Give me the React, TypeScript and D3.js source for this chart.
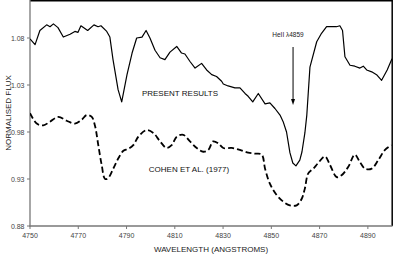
import React from "react";
import * as d3 from "d3";

const presentWave = [4750.0,4752.1,4754.1,4756.9,4758.3,4759.7,4761.6,4763.8,4766.6,4768.6,4769.9,4771.1,4773.9,4776.5,4778.2,4779.4,4781.8,4783.1,4784.4,4786.5,4788.0,4790.2,4792.3,4794.2,4796.4,4798.1,4799.7,4801.8,4803.9,4805.9,4808.0,4810.8,4812.8,4814.2,4816.3,4818.4,4821.1,4823.2,4825.3,4827.3,4829.4,4830.1,4832.1,4834.9,4837.0,4839.1,4840.4,4842.3,4844.6,4847.4,4849.4,4851.5,4853.6,4854.9,4856.3,4857.7,4858.9,4860.2,4861.8,4862.7,4863.9,4864.7,4866.0,4868.8,4870.8,4872.9,4877.0,4878.4,4879.5,4880.5,4882.6,4884.6,4886.7,4888.1,4889.5,4891.6,4893.6,4895.7,4898.0,4900.0];
const presentFlux = [1.079,1.073,1.088,1.094,1.092,1.095,1.091,1.081,1.084,1.087,1.086,1.093,1.088,1.094,1.092,1.093,1.087,1.081,1.057,1.025,1.012,1.041,1.064,1.080,1.081,1.088,1.080,1.067,1.059,1.057,1.065,1.071,1.064,1.063,1.055,1.048,1.053,1.046,1.041,1.039,1.034,1.031,1.029,1.027,1.027,1.021,1.018,1.012,1.021,1.010,1.011,1.005,0.998,0.991,0.980,0.958,0.947,0.944,0.950,0.959,0.979,0.998,1.049,1.076,1.085,1.092,1.092,1.093,1.088,1.060,1.051,1.050,1.048,1.050,1.046,1.044,1.041,1.035,1.046,1.058];

const cohenWave = [4750.0,4752.8,4755.5,4758.3,4761.7,4765.2,4768.6,4771.4,4773.5,4775.6,4776.9,4778.3,4779.7,4781.1,4782.4,4784.5,4786.6,4788.7,4790.7,4792.8,4794.9,4798.3,4801.1,4803.9,4806.6,4808.7,4810.8,4813.5,4816.3,4819.1,4821.8,4823.9,4825.9,4828.0,4830.1,4833.6,4837.0,4840.4,4843.2,4846.0,4847.4,4849.4,4852.2,4854.9,4857.7,4860.5,4862.6,4863.9,4865.3,4867.4,4869.4,4872.2,4874.3,4877.1,4879.1,4881.9,4884.6,4886.7,4888.8,4891.6,4894.3,4897.1,4899.8];
const cohenFlux = [1.000,0.989,0.987,0.991,0.996,0.992,0.989,0.993,0.998,0.996,0.987,0.966,0.945,0.930,0.931,0.941,0.952,0.960,0.962,0.966,0.975,0.982,0.979,0.970,0.963,0.966,0.975,0.977,0.970,0.963,0.959,0.961,0.970,0.968,0.963,0.963,0.961,0.958,0.957,0.956,0.941,0.925,0.913,0.906,0.902,0.902,0.909,0.920,0.936,0.941,0.947,0.954,0.945,0.932,0.934,0.943,0.956,0.948,0.941,0.941,0.950,0.961,0.966];

const xTicks = [4750,4770,4790,4810,4830,4850,4870,4890];
const yTicks = [0.88,0.93,0.98,1.03,1.08];
const heLine = 4859;

const W = 393, H = 254;
const FONT = "'Liberation Sans', Arial, sans-serif";

export default function App() {
  const x = d3.scaleLinear().domain([4750, 4900]).range([30, 392]);
  const y = d3.scaleLinear().domain([0.88, 1.12]).range([226, 0.4]);

  const present = presentWave.map((w, i) => [w, presentFlux[i]] as [number, number]);
  const cohen = cohenWave.map((w, i) => [w, cohenFlux[i]] as [number, number]);

  const solidLine = d3.line<[number, number]>().x(d => x(d[0])).y(d => y(d[1])).curve(d3.curveLinear);
  const smoothLine = d3.line<[number, number]>().x(d => x(d[0])).y(d => y(d[1])).curve(d3.curveCatmullRom.alpha(0.5));

  const ax = x(heLine);

  return (
    <svg width={W} height={H} style={{ position: "absolute", left: 0, top: 0, background: "#fff" }} fontFamily={FONT}>
      <defs>
        <clipPath id="plot">
          <rect x={30} y={0} width={362} height={226} />
        </clipPath>
      </defs>
      <line x1={30} x2={392.5} y1={0.75} y2={0.75} stroke="#000" strokeWidth={1.5} />
      <line x1={392.2} x2={392.2} y1={0} y2={226} stroke="#000" strokeWidth={1.5} />
      <line x1={30} x2={30} y1={0} y2={226.5} stroke="#777" strokeWidth={1.3} />
      <line x1={29.5} x2={392.5} y1={226} y2={226} stroke="#777" strokeWidth={1.3} />
      {yTicks.map(t => (
        <g key={t}>
          <line x1={27} x2={30} y1={y(t)} y2={y(t)} stroke="#777" strokeWidth={1} />
          <text x={24.5} y={y(t) + 2.5} fontSize={7} textAnchor="end" fill="#444">{t.toFixed(2)}</text>
        </g>
      ))}
      {xTicks.map(t => (
        <g key={t}>
          <line x1={x(t)} x2={x(t)} y1={226} y2={229} stroke="#777" strokeWidth={1} />
          <text x={x(t)} y={238} fontSize={7} textAnchor="middle" fill="#444">{t}</text>
        </g>
      ))}
      <text x={211} y={252} fontSize={8} textAnchor="middle" fill="#222">WAVELENGTH (ANGSTROMS)</text>
      <text transform={`translate(10.5,113) rotate(-90)`} fontSize={8} textAnchor="middle" fill="#222">NORMALISED FLUX</text>

      <g clipPath="url(#plot)">
        <path d={solidLine(present) || ""} fill="none" stroke="#000" strokeWidth={1.2} strokeLinejoin="round" />
        <path d={smoothLine(cohen) || ""} fill="none" stroke="#000" strokeWidth={1.8} strokeDasharray="6,3" />
      </g>

      <text x={180} y={96} fontSize={8} textAnchor="middle" fill="#111">PRESENT RESULTS</text>
      <text x={189} y={171.5} fontSize={8} textAnchor="middle" fill="#111">COHEN ET AL. (1977)</text>

      <text x={288} y={37} fontSize={6.5} textAnchor="middle" fill="#222">HeII λ4859</text>
      <line x1={ax} x2={ax} y1={47} y2={100} stroke="#000" strokeWidth={1} />
      <path d={`M${ax - 2},${99} L${ax + 2},${99} L${ax},${105} Z`} fill="#000" />
    </svg>
  );
}
